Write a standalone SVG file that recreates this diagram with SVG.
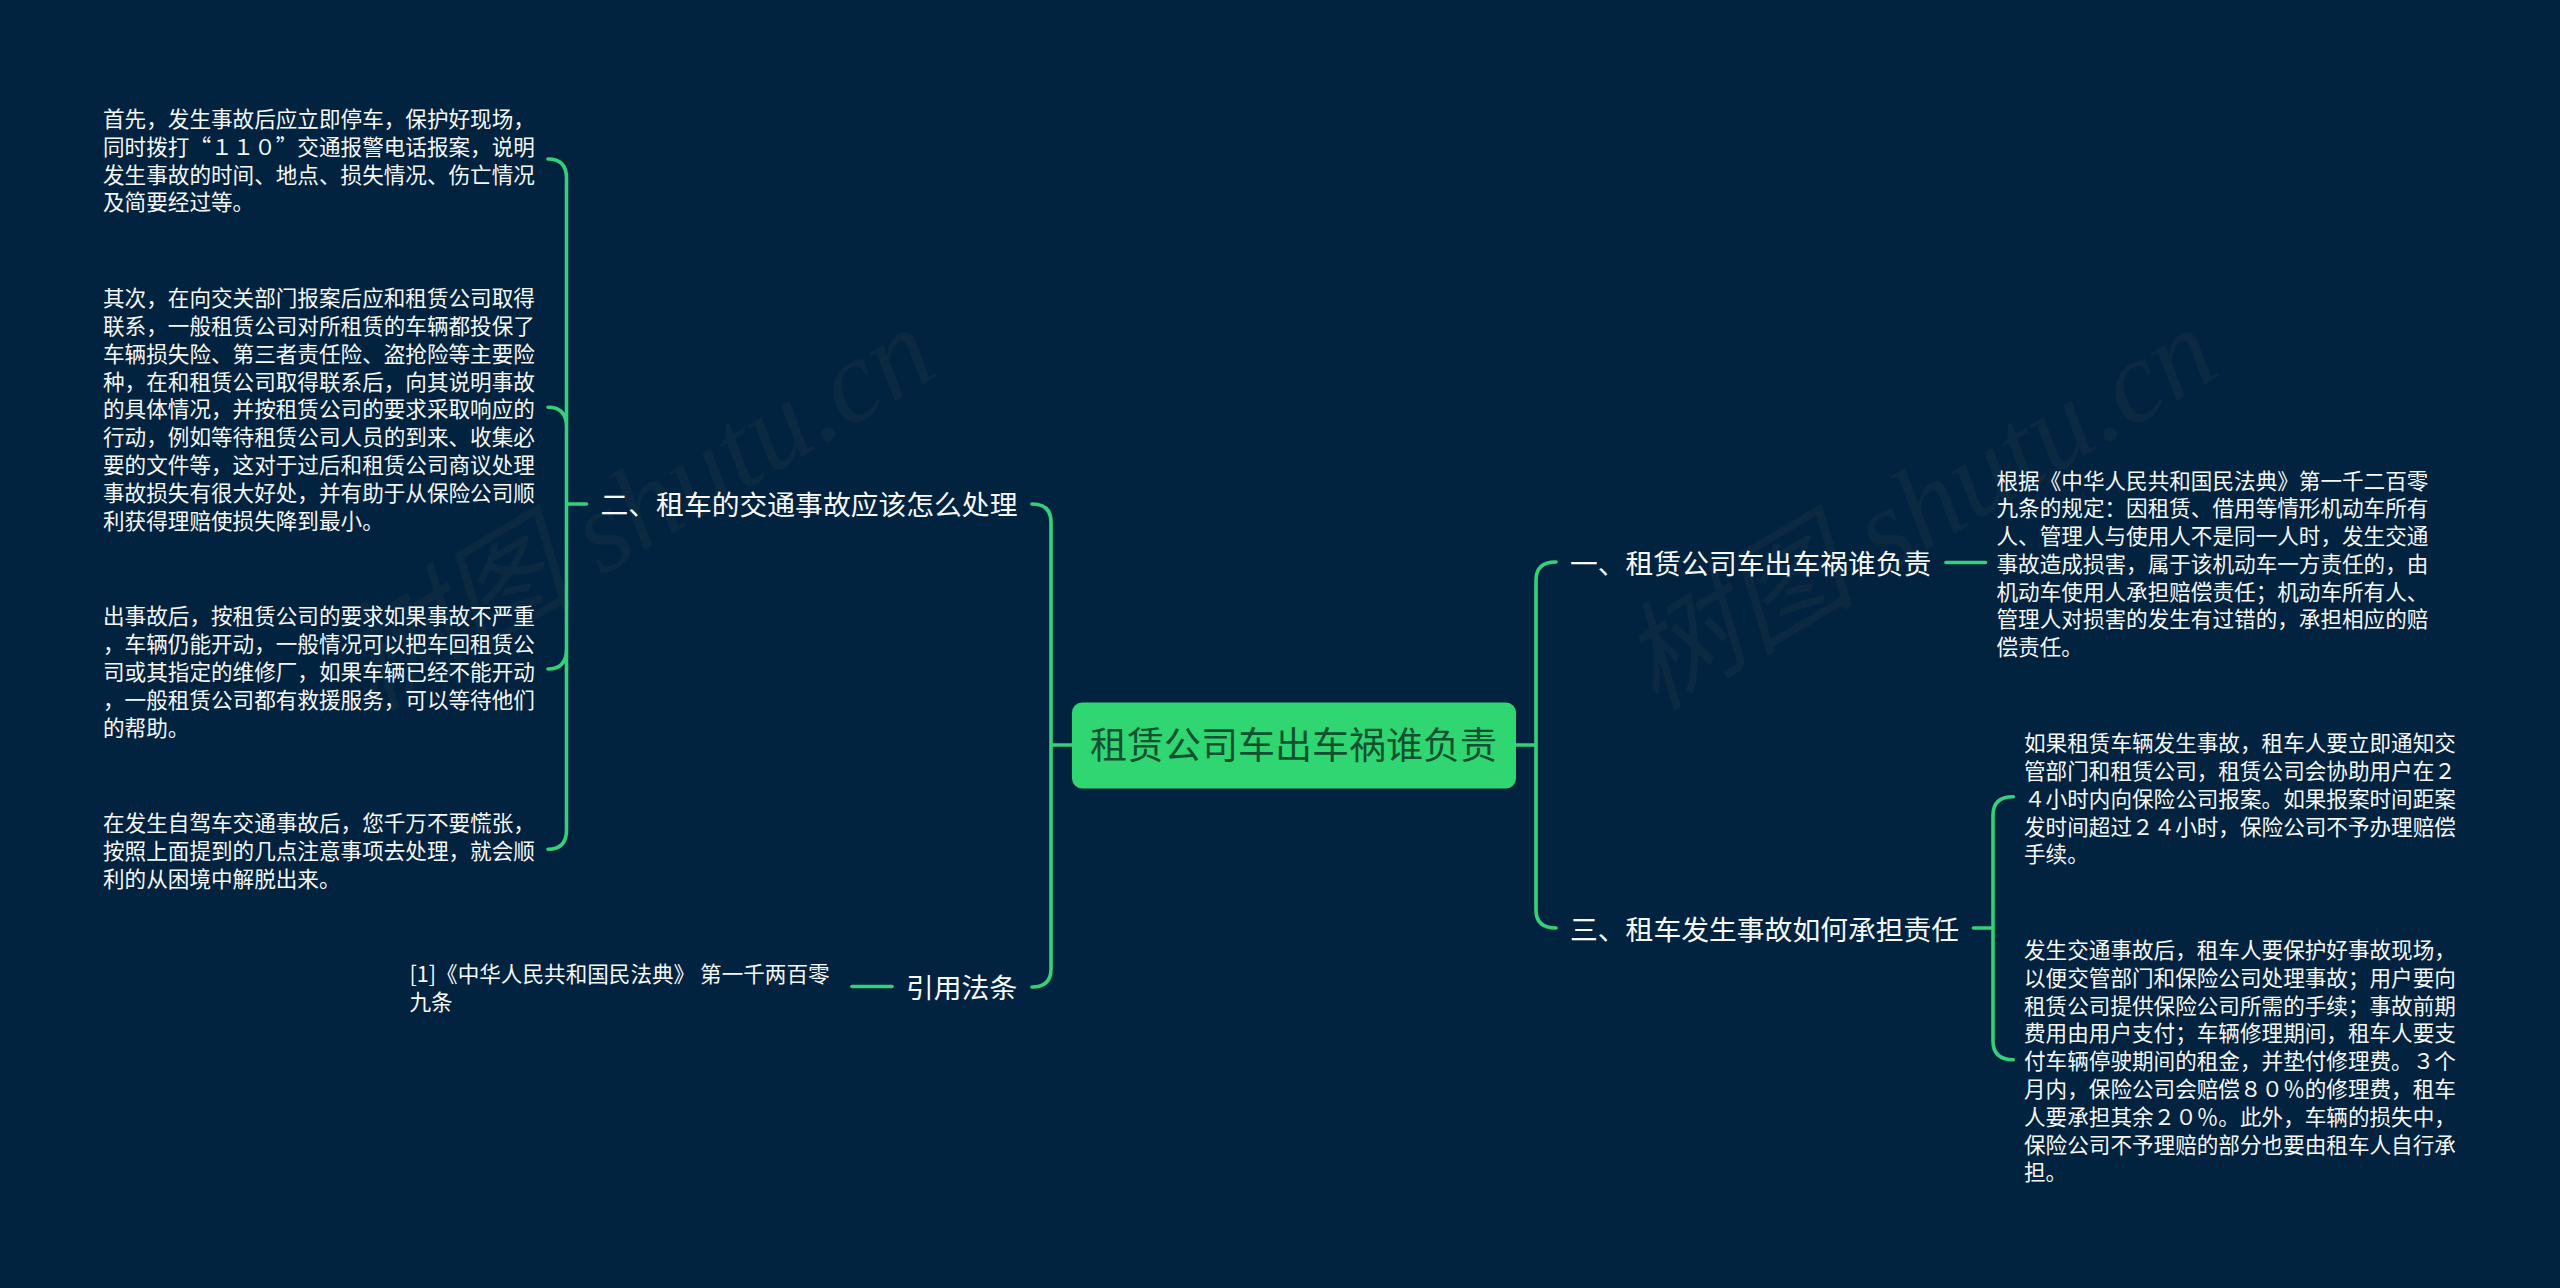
<svg xmlns="http://www.w3.org/2000/svg" width="2560" height="1288" viewBox="0 0 2560 1288">
<style>
text{font-family:"Noto Sans CJK SC","Noto Sans",sans-serif}
.t{font-size:21.6px;fill:#f6f8fa}
.h{font-size:27.8px;fill:#f6f8fa}
.r{font-size:37px;fill:#11512f}
.w{font-family:"Liberation Serif","Noto Sans CJK SC",serif;font-style:italic;font-size:118px;fill:#0b2a42}
.c{fill:none;stroke:#35d07a;stroke-width:3.6;stroke-linecap:round}
</style>
<rect width="2560" height="1288" fill="#02233f"/>
<g id="watermarks">
<text class="w" transform="translate(373,712) rotate(-30.8)">树图 shutu.cn</text>
<text class="w" transform="translate(1655,712) rotate(-30.8)">树图 shutu.cn</text>
</g>
<g id="connectors">
<path class="c" d="M1072 745H1051M1032 504Q1051 504 1051 522V969Q1051 987 1032 987"/>
<path class="c" d="M1516 745H1536M1556 562Q1536 562 1536 580V910Q1536 928 1556 928"/>
<path class="c" d="M548 159Q566.5 159 566.5 178V830Q566.5 849.3 548 849.3M548 407.3Q566.5 407.3 566.5 427M548 669Q566.5 669 566.5 649M566.5 504H586.5"/>
<path class="c" d="M852 986.5H892"/>
<path class="c" d="M1946 562.5H1985.5"/>
<path class="c" d="M1973.5 928H1993M2013.3 796.7Q1993 796.7 1993 815V1041Q1993 1059.7 2013.3 1059.7"/>
</g>
<g id="root">
<rect x="1072" y="702.5" width="444" height="86" rx="10" fill="#2fd672"/>
<text class="r" x="1090" y="759">租赁公司车出车祸谁负责</text>
</g>
<g id="branch-1"><text class="h" x="1570" y="574">一、租赁公司车出车祸谁负责</text></g>
<g id="branch-2"><text class="h" x="600.5" y="515">二、租车的交通事故应该怎么处理</text></g>
<g id="branch-3"><text class="h" x="1570" y="939.5">三、租车发生事故如何承担责任</text></g>
<g id="branch-4"><text class="h" x="906" y="998">引用法条</text></g>
<g id="leaf-2a"><text class="t">
<tspan x="103" y="126.5">首先，发生事故后应立即停车，保护好现场，</tspan>
<tspan x="103" y="154.5">同时拨打“１１０”交通报警电话报案，说明</tspan>
<tspan x="103" y="182.5">发生事故的时间、地点、损失情况、伤亡情况</tspan>
<tspan x="103" y="210">及简要经过等。</tspan>
</text></g>
<g id="leaf-2b"><text class="t">
<tspan x="103" y="306">其次，在向交关部门报案后应和租赁公司取得</tspan>
<tspan x="103" y="334">联系，一般租赁公司对所租赁的车辆都投保了</tspan>
<tspan x="103" y="361.7">车辆损失险、第三者责任险、盗抢险等主要险</tspan>
<tspan x="103" y="389.7">种，在和租赁公司取得联系后，向其说明事故</tspan>
<tspan x="103" y="417.4">的具体情况，并按租赁公司的要求采取响应的</tspan>
<tspan x="103" y="445.2">行动，例如等待租赁公司人员的到来、收集必</tspan>
<tspan x="103" y="473">要的文件等，这对于过后和租赁公司商议处理</tspan>
<tspan x="103" y="500.7">事故损失有很大好处，并有助于从保险公司顺</tspan>
<tspan x="103" y="528.7">利获得理赔使损失降到最小。</tspan>
</text></g>
<g id="leaf-2c"><text class="t">
<tspan x="103" y="623.7">出事故后，按租赁公司的要求如果事故不严重</tspan>
<tspan x="103" y="651.5">，车辆仍能开动，一般情况可以把车回租赁公</tspan>
<tspan x="103" y="679.5">司或其指定的维修厂，如果车辆已经不能开动</tspan>
<tspan x="103" y="707.5">，一般租赁公司都有救援服务，可以等待他们</tspan>
<tspan x="103" y="735.5">的帮助。</tspan>
</text></g>
<g id="leaf-2d"><text class="t">
<tspan x="103" y="831">在发生自驾车交通事故后，您千万不要慌张，</tspan>
<tspan x="103" y="859">按照上面提到的几点注意事项去处理，就会顺</tspan>
<tspan x="103" y="887">利的从困境中解脱出来。</tspan>
</text></g>
<g id="leaf-4a"><text class="t">
<tspan x="409.5" y="982">[1]《中华人民共和国民法典》 第一千两百零</tspan>
<tspan x="409.5" y="1010">九条</tspan>
</text></g>
<g id="leaf-1a"><text class="t">
<tspan x="1996.5" y="488.5">根据《中华人民共和国民法典》第一千二百零</tspan>
<tspan x="1996.5" y="516.3">九条的规定：因租赁、借用等情形机动车所有</tspan>
<tspan x="1996.5" y="544">人、管理人与使用人不是同一人时，发生交通</tspan>
<tspan x="1996.5" y="571.8">事故造成损害，属于该机动车一方责任的，由</tspan>
<tspan x="1996.5" y="599.5">机动车使用人承担赔偿责任；机动车所有人、</tspan>
<tspan x="1996.5" y="627.3">管理人对损害的发生有过错的，承担相应的赔</tspan>
<tspan x="1996.5" y="655">偿责任。</tspan>
</text></g>
<g id="leaf-3a"><text class="t">
<tspan x="2024" y="751">如果租赁车辆发生事故，租车人要立即通知交</tspan>
<tspan x="2024" y="778.8">管部门和租赁公司，租赁公司会协助用户在２</tspan>
<tspan x="2024" y="806.5">４小时内向保险公司报案。如果报案时间距案</tspan>
<tspan x="2024" y="834.5">发时间超过２４小时，保险公司不予办理赔偿</tspan>
<tspan x="2024" y="862">手续。</tspan>
</text></g>
<g id="leaf-3b"><text class="t">
<tspan x="2024" y="958">发生交通事故后，租车人要保护好事故现场，</tspan>
<tspan x="2024" y="985.8">以便交管部门和保险公司处理事故；用户要向</tspan>
<tspan x="2024" y="1013.6">租赁公司提供保险公司所需的手续；事故前期</tspan>
<tspan x="2024" y="1041.4">费用由用户支付；车辆修理期间，租车人要支</tspan>
<tspan x="2024" y="1069.2">付车辆停驶期间的租金，并垫付修理费。３个</tspan>
<tspan x="2024" y="1097">月内，保险公司会赔偿８０％的修理费，租车</tspan>
<tspan x="2024" y="1124.8">人要承担其余２０％。此外，车辆的损失中，</tspan>
<tspan x="2024" y="1152.6">保险公司不予理赔的部分也要由租车人自行承</tspan>
<tspan x="2024" y="1180.4">担。</tspan>
</text></g>
</svg>
